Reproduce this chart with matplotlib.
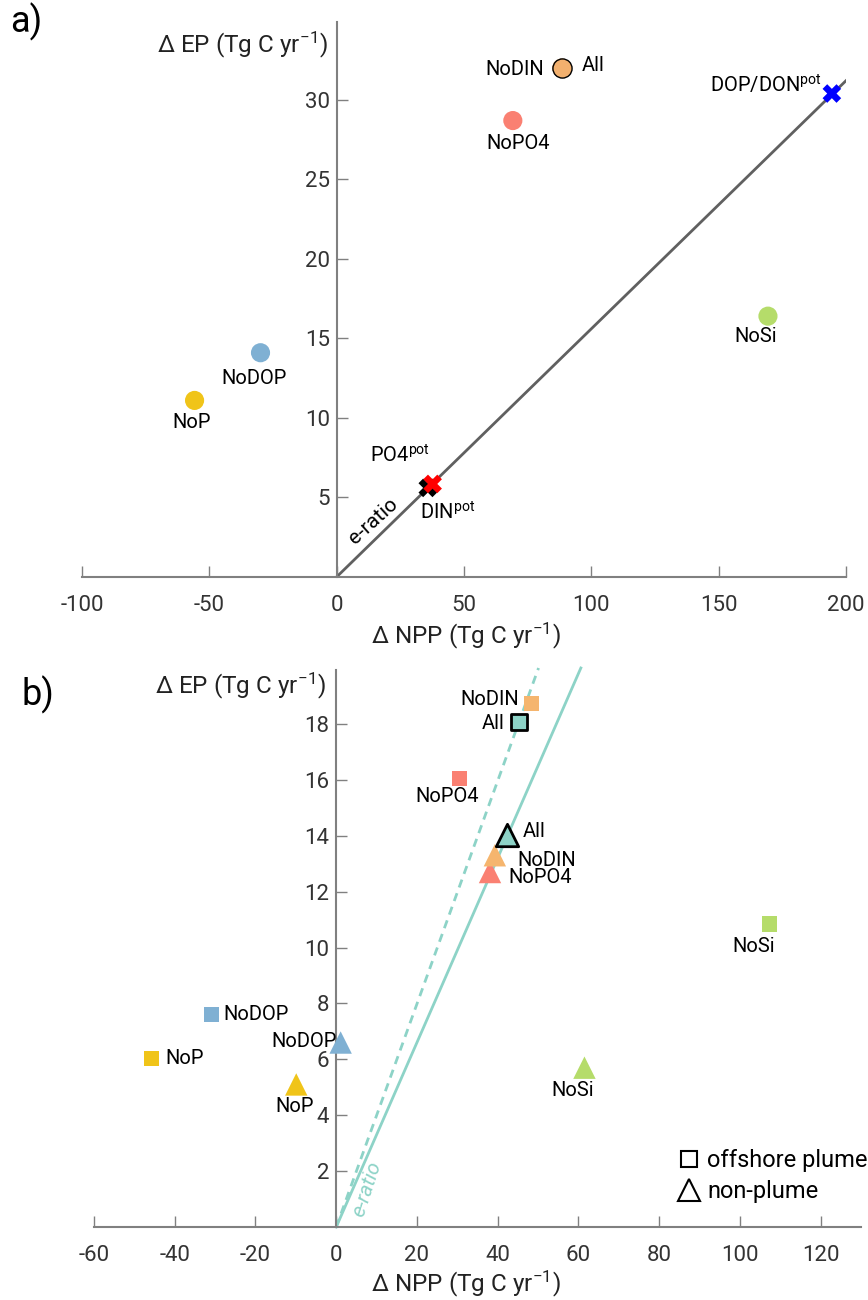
import numpy as np
import matplotlib
matplotlib.use("Agg")
import matplotlib.pyplot as plt
from matplotlib.lines import Line2D

plt.rcParams['font.family'] = ['Roboto', 'DejaVu Sans']
plt.rcParams['mathtext.fontset'] = 'custom'
plt.rcParams['mathtext.rm'] = 'Roboto'
plt.rcParams['mathtext.it'] = 'Roboto:italic'
plt.rcParams['axes.unicode_minus'] = False

# ---- panel a: whole-shelf response ----
a_names = ['All', 'NoDIN', 'NoPO4', 'NoSi', 'NoDOP', 'NoP']
a_npp = [88.4, 88.4, 69.2, 169.4, -29.9, -55.8]
a_ep = [32.0, 32.0, 28.7, 16.4, 14.1, 11.1]
a_cols = ['#f2b06e', '#f2b06e', '#fa8072', '#b5dc6a', '#7fb0d3', '#f0c419']

pot_names = ['DIN', 'PO4', 'DOP/DON']
pot_npp = [35.8, 37.7, 194.5]
pot_ep = [5.6, 5.85, 30.4]
pot_cols = ['black', 'red', 'blue']

eratio_a = 0.156

# ---- panel b: plume vs non-plume ----
b_names = ['All', 'NoDIN', 'NoPO4', 'NoSi', 'NoDOP', 'NoP']
b_cols = ['#8dd3c7', '#f5b56e', '#fa8072', '#b5dc6a', '#7fb0d3', '#f0c419']
plume_npp = [45.3, 48.4, 30.6, 107.3, -30.9, -45.8]
plume_ep = [18.08, 18.74, 16.05, 10.84, 7.61, 6.03]
nonplume_npp = [42.3, 39.3, 38.1, 61.5, 1.1, -9.9]
nonplume_ep = [14.04, 13.3, 12.7, 5.7, 6.6, 5.1]

eratio_plume = 0.399
eratio_nonplume = 0.33

teal = '#8dd3c7'
axcol = '#808080'
ticklab = '#333333'


def style_axes(ax):
    for s in ['top', 'right']:
        ax.spines[s].set_visible(False)
    ax.spines['left'].set_position(('data', 0))
    ax.spines['bottom'].set_position(('data', 0))
    for s in ['left', 'bottom']:
        ax.spines[s].set_color(axcol)
        ax.spines[s].set_linewidth(1.5)
    ax.tick_params(direction='in', length=8, width=1, color=axcol,
                   labelcolor=ticklab, labelsize=16)
    ax.tick_params(axis='x', pad=13)
    ax.tick_params(axis='y', pad=5)


ylab = r'$\Delta$ EP (Tg C yr$^{\mathregular{-1}}$)'
xlab = r'$\Delta$ NPP (Tg C yr$^{\mathregular{-1}}$)'

fig = plt.figure(figsize=(8.68, 13), dpi=100)

# panel a
ax = fig.add_axes([0.0945, 0.5562, 0.880, 0.4269])
ax.set_xlim(-100, 200)
ax.set_ylim(0, 34.9)
style_axes(ax)
ax.set_xticks([-100, -50, 0, 50, 100, 150, 200])
ax.set_yticks([5, 10, 15, 20, 25, 30])

xx = np.array([0, 200])
ax.plot(xx, eratio_a * xx, color='#606060', lw=2, zorder=2)
ax.text(14.5, 3.5, 'e-ratio', rotation=42, fontsize=15, ha='center', va='center',
        color='black')

for i in range(len(a_names))[::-1]:
    ec = 'black' if a_names[i] == 'All' else 'none'
    ax.scatter(a_npp[i], a_ep[i], s=190, color=a_cols[i], edgecolor=ec,
               linewidth=1, zorder=3, clip_on=False)
for i in range(len(pot_names)):
    ax.scatter(pot_npp[i], pot_ep[i], s=180, marker='X', color=pot_cols[i],
               edgecolor='none', zorder=4, clip_on=False)

lab = dict(fontsize=14.5, color='black')
sup = r'$^{\mathregular{pot}}$'
ax.text(a_npp[1] - 7, a_ep[1] - 0.1, 'NoDIN', ha='right', va='center', **lab)
ax.text(a_npp[0] + 8, a_ep[0] + 0.15, 'All', ha='left', va='center', **lab)
ax.text(a_npp[2] + 2, a_ep[2] - 1.45, 'NoPO4', ha='center', va='center', **lab)
ax.text(a_npp[3] - 5, a_ep[3] - 1.3, 'NoSi', ha='center', va='center', **lab)
ax.text(a_npp[4] - 2.5, a_ep[4] - 1.6, 'NoDOP', ha='center', va='center', **lab)
ax.text(a_npp[5] - 1, a_ep[5] - 1.4, 'NoP', ha='center', va='center', **lab)
ax.text(pot_npp[1] - 1, pot_ep[1] + 1.8, 'PO4' + sup, ha='right', va='center', **lab)
ax.text(pot_npp[0] - 3, pot_ep[0] - 1.5, 'DIN' + sup, ha='left', va='center', **lab)
ax.text(pot_npp[2] - 4, pot_ep[2] + 0.6, 'DOP/DON' + sup, ha='right', va='center', **lab)

fig.text(328 / 868, 1 - 45 / 1300, ylab, ha='right', va='center', fontsize=17.5,
         color='#222222')
fig.text(466 / 868, 1 - 636 / 1300, xlab, ha='center', va='center', fontsize=17.5,
         color='#222222')
fig.text(10 / 868, 1 - 22 / 1300, 'a)', ha='left', va='center', fontsize=26)

# panel b
bx = fig.add_axes([0.1083, 0.05615, 0.8836, 0.4285])
bx.set_xlim(-60, 130)
bx.set_ylim(0, 19.93)
style_axes(bx)
bx.set_xticks(np.arange(-60, 121, 20))
bx.set_yticks(np.arange(2, 19, 2))

bx.plot([0, 20 / eratio_plume], [0, 20], color=teal, lw=2, ls=(0, (3, 2.2)),
        zorder=2, clip_on=False)
bx.plot([0, 20 / eratio_nonplume], [0, 20], color=teal, lw=2, zorder=2,
        clip_on=False)
bx.text(7.6, 1.35, 'e-ratio', rotation=72, fontsize=15, style='italic',
        color=teal, ha='center', va='center')

for i in range(len(b_names))[::-1]:
    ec = 'black' if b_names[i] == 'All' else 'none'
    bx.scatter(plume_npp[i], plume_ep[i], s=120, marker='s', color=b_cols[i],
               edgecolor=ec, linewidth=2, zorder=3)
    bx.scatter(nonplume_npp[i], nonplume_ep[i], s=260, marker='^',
               color=b_cols[i], edgecolor=ec, linewidth=2, zorder=3)

bx.text(plume_npp[1] - 3, plume_ep[1] + 0.12, 'NoDIN', ha='right', va='center', **lab)
bx.text(plume_npp[0] - 3.5, plume_ep[0] - 0.05, 'All', ha='right', va='center', **lab)
bx.text(plume_npp[2] - 3, plume_ep[2] - 0.65, 'NoPO4', ha='center', va='center', **lab)
bx.text(plume_npp[3] - 4, plume_ep[3] - 0.8, 'NoSi', ha='center', va='center', **lab)
bx.text(plume_npp[4] + 3, plume_ep[4], 'NoDOP', ha='left', va='center', **lab)
bx.text(plume_npp[5] + 3.5, plume_ep[5], 'NoP', ha='left', va='center', **lab)
bx.text(nonplume_npp[0] + 4, nonplume_ep[0] + 0.1, 'All', ha='left', va='center', **lab)
bx.text(nonplume_npp[1] + 5.5, nonplume_ep[1] - 0.2, 'NoDIN', ha='left', va='center', **lab)
bx.text(nonplume_npp[2] + 4.5, nonplume_ep[2] - 0.2, 'NoPO4', ha='left', va='center', **lab)
bx.text(nonplume_npp[3] - 3, nonplume_ep[3] - 0.8, 'NoSi', ha='center', va='center', **lab)
bx.text(nonplume_npp[4] - 1, nonplume_ep[4] + 0.05, 'NoDOP', ha='right', va='center', **lab)
bx.text(nonplume_npp[5] - 0.5, nonplume_ep[5] - 0.8, 'NoP', ha='center', va='center', **lab)

handles = [Line2D([], [], marker='s', ls='none', mfc='none', mec='black',
                  mew=1.5, ms=12),
           Line2D([], [], marker='^', ls='none', mfc='none', mec='black',
                  mew=1.5, ms=16)]
fig.legend(handles, ['offshore plume', 'non-plume'], frameon=False,
           loc='upper left', bbox_to_anchor=(674 / 868, 1 - 1149 / 1300),
           fontsize=17, handletextpad=0.1, labelspacing=0.35, borderaxespad=0,
           borderpad=0, handlelength=1.3)

fig.text(326 / 868, 1 - 686 / 1300, ylab, ha='right', va='center', fontsize=17.5,
         color='#222222')
fig.text(466 / 868, 1 - 1284 / 1300, xlab, ha='center', va='center', fontsize=17.5,
         color='#222222')
fig.text(22 / 868, 1 - 695 / 1300, 'b)', ha='left', va='center', fontsize=26)

fig.savefig('out.png', dpi=100)
